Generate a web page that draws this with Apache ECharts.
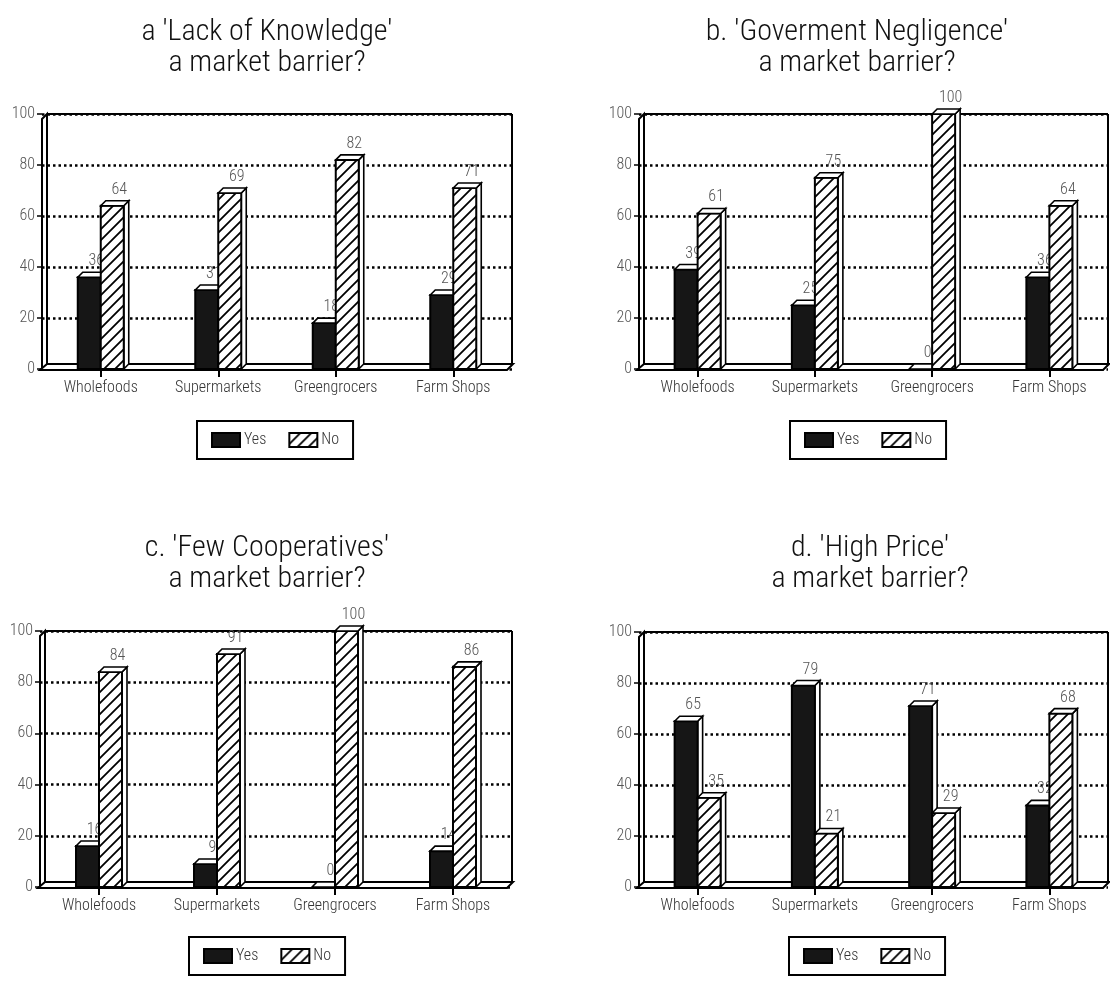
<!DOCTYPE html>
<html>
<head>
<meta charset="utf-8">
<title>Market barriers</title>
<script src="https://cdn.jsdelivr.net/npm/echarts@6/dist/echarts.min.js"></script>
<style>
  html, body { margin: 0; padding: 0; background: #fff; }
  #chart { width: 1110px; height: 984px; }
</style>
</head>
<body>
<div id="chart"></div>
<script>
// ---- data ----
const categories = ['Wholefoods', 'Supermarkets', 'Greengrocers', 'Farm Shops'];
const seriesNames = ['Yes', 'No'];

const panelTitles = [
  "a 'Lack of Knowledge'\na market barrier?",
  "b. 'Goverment Negligence'\na market barrier?",
  "c. 'Few Cooperatives'\na market barrier?",
  "d. 'High Price'\na market barrier?"
];

const yesA = [36, 31, 18, 29];
const noA  = [64, 69, 82, 71];
const yesB = [39, 25, 0, 36];
const noB  = [61, 75, 100, 64];
const yesC = [16, 9, 0, 14];
const noC  = [84, 91, 100, 86];
const yesD = [65, 79, 71, 32];
const noD  = [35, 21, 29, 68];

const yMin = 0, yMax = 100, yStep = 20;

const panelData = [[yesA, noA], [yesB, noB], [yesC, noC], [yesD, noD]];

// ---- layout (pixels) ----
const FONT = "'Roboto Condensed', 'Liberation Sans Narrow', 'Roboto', sans-serif";
const panels = [
  { L: 42,  T: 114, R: 512,  B: 369, titleX: 262, titleY: 12,  legX: 197, legY: 421 },
  { L: 639, T: 114, R: 1108, B: 369, titleX: 852, titleY: 12,  legX: 790, legY: 421 },
  { L: 40,  T: 631, R: 512,  B: 887, titleX: 262, titleY: 528, legX: 189, legY: 937 },
  { L: 639, T: 632, R: 1108, B: 887, titleX: 865, titleY: 528, legX: 789, legY: 937 }
];
const BAR_W = 23;
const DEPTH = 5;
const LABEL_SHIFT = 7;

// diagonal hatch used for the "No" bars
function hatchPattern() {
  const s = 11;
  const c = document.createElement('canvas');
  c.width = s; c.height = s;
  const g = c.getContext('2d');
  g.fillStyle = '#fff';
  g.fillRect(0, 0, s, s);
  g.strokeStyle = '#000';
  g.lineWidth = 1.8;
  g.beginPath();
  g.moveTo(-1, s + 1); g.lineTo(s + 1, -1);
  g.moveTo(-1, 1); g.lineTo(1, -1);
  g.moveTo(s - 1, s + 1); g.lineTo(s + 1, s - 1);
  g.stroke();
  return { image: c, repeat: 'repeat' };
}
const hatch = hatchPattern();
const fills = ['#161616', hatch];

// 3D-looking bar: side face, front face, top face and value label
function barRenderer(seriesIdx) {
  return function (params, api) {
    const ci = api.value(0);
    const v = api.value(1);
    const top = api.coord([ci, v]);
    const base = api.coord([ci, 0]);
    const w = BAR_W, d = DEPTH;
    const x = seriesIdx === 0 ? top[0] - w : top[0];
    const yt = top[1], yb = base[1];
    const line = { stroke: '#000', lineWidth: 1.6 };
    return {
      type: 'group',
      children: [
        {
          type: 'polygon',
          shape: { points: [[x + w, yt], [x + w + d, yt - d], [x + w + d, yb - d], [x + w, yb]] },
          style: Object.assign({ fill: '#fff' }, line)
        },
        {
          type: 'rect',
          shape: { x: x, y: yt, width: w, height: yb - yt },
          style: { fill: fills[seriesIdx], stroke: '#000', lineWidth: 2 }
        },
        {
          type: 'polygon',
          shape: { points: [[x, yt], [x + d, yt - d], [x + w + d, yt - d], [x + w, yt]] },
          style: Object.assign({ fill: '#fff' }, line)
        },
        {
          type: 'text',
          style: {
            text: String(v),
            x: x + w / 2 + LABEL_SHIFT,
            y: yt - d - 3,
            align: 'center',
            verticalAlign: 'bottom',
            fill: '#555',
            fontSize: 16,
            fontWeight: 300,
            fontFamily: FONT
          }
        }
      ]
    };
  };
}

const grids = [], xAxes = [], yAxes = [], series = [], titles = [], legends = [], graphics = [];

panels.forEach(function (p, i) {
  grids.push({ left: p.L, top: p.T, width: p.R - p.L, height: p.B - p.T, containLabel: false });
  xAxes.push({
    type: 'category', gridIndex: i, data: categories,
    axisLine: { show: false },
    axisTick: { show: true, alignWithLabel: true, length: 8, lineStyle: { color: '#000', width: 2 } },
    axisLabel: { margin: 11, color: '#333', fontSize: 16, fontWeight: 300, fontFamily: FONT }
  });
  yAxes.push({
    type: 'value', gridIndex: i, min: yMin, max: yMax, interval: yStep,
    axisLine: { show: false },
    axisTick: { show: true, length: 5, lineStyle: { color: '#000', width: 1.5 } },
    axisLabel: { margin: 7, color: '#555', fontSize: 16, fontWeight: 300, fontFamily: FONT },
    splitLine: { show: true, lineStyle: { color: '#000', width: 2.5, type: [2.5, 3] } }
  });
  seriesNames.forEach(function (name, s) {
    series.push({
      type: 'custom', name: name, xAxisIndex: i, yAxisIndex: i,
      renderItem: barRenderer(s),
      itemStyle: { color: fills[s], borderColor: '#000', borderWidth: 1.5 },
      encode: { x: 0, y: 1 },
      data: panelData[i][s].map(function (v, k) { return [k, v]; }),
      z: 3
    });
  });
  titles.push({
    text: panelTitles[i], left: p.titleX, top: p.titleY, textAlign: 'center',
    textStyle: { fontSize: 30, fontWeight: 300, fontFamily: FONT, color: '#111', lineHeight: 31 }
  });
  legends.push({
    data: seriesNames, left: p.legX, top: p.legY, icon: 'rect',
    itemWidth: 28, itemHeight: 14, itemGap: 22,
    padding: [11, 14], borderColor: '#000', borderWidth: 2,
    textStyle: { fontSize: 16, fontWeight: 300, fontFamily: FONT, color: '#333', padding: [0, 0, 0, -1] },
    selectedMode: false
  });

  // back wall, left wall and floor slab of each panel
  const k = { stroke: '#000', lineWidth: 2 };
  graphics.push(
    { type: 'line', z: 1, shape: { x1: p.L + DEPTH, y1: p.T, x2: p.R, y2: p.T }, style: k },
    { type: 'line', z: 1, shape: { x1: p.R, y1: p.T, x2: p.R, y2: p.B - DEPTH }, style: k },
    { type: 'polyline', z: 1, shape: { points: [[p.L, p.B + 1], [p.L, p.T + DEPTH], [p.L + DEPTH, p.T], [p.L + DEPTH, p.B - DEPTH]] }, style: Object.assign({ fill: null }, k) },
    { type: 'polygon', z: 1, shape: { points: [[p.L - 2, p.B + 1], [p.R - DEPTH, p.B + 1], [p.R + 1, p.B - DEPTH], [p.L + DEPTH, p.B - DEPTH]] }, style: Object.assign({ fill: '#fff' }, k) }
  );
});

const chart = echarts.init(document.getElementById('chart'), null, { renderer: 'canvas' });
chart.setOption({
  backgroundColor: '#fff',
  animation: false,
  title: titles,
  legend: legends,
  grid: grids,
  xAxis: xAxes,
  yAxis: yAxes,
  series: series,
  graphic: { elements: graphics }
});
</script>
</body>
</html>
